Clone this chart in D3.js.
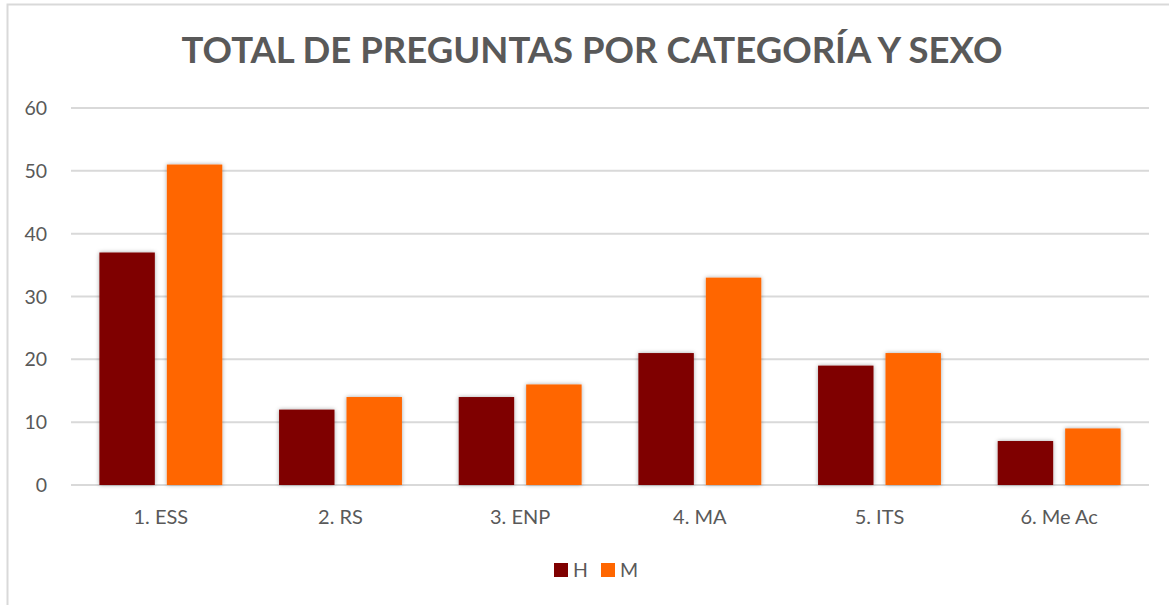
<!DOCTYPE html>
<html>
<head>
<meta charset="utf-8">
<script src="https://cdn.jsdelivr.net/npm/d3@7"></script>
<style>
  body { margin: 0; background: #fff; }
  text { font-family: Lato, "Open Sans", sans-serif; fill: #595959; }
</style>
</head>
<body>
<svg id="chart" width="1169" height="605"></svg>
<script>
// data
var categories = ["1. ESS", "2. RS", "3. ENP", "4. MA", "5. ITS", "6. Me Ac"];
var seriesNames = ["H", "M"];
var valuesH = [37, 12, 14, 21, 19, 7];
var valuesM = [51, 14, 16, 33, 21, 9];
var yTicks = [0, 10, 20, 30, 40, 50, 60];
var colors = ["#7f0000", "#ff6600"];

var svg = d3.select("#chart");
var W = 1169, H = 605;
// plot area
var marginLeft = 71, marginRight = 20, marginTop = 108, plotBottom = 485;

// chart border (light gray)
svg.append("rect")
   .attr("x", 7.5).attr("y", 4.5)
   .attr("width", W + 10).attr("height", H + 10)
   .attr("fill", "none").attr("stroke", "#d9d9d9").attr("stroke-width", 2);

// soft shadow for bars
var defs = svg.append("defs");
var f = defs.append("filter").attr("id", "shadow")
            .attr("x", "-20%").attr("y", "-20%").attr("width", "140%").attr("height", "140%");
f.append("feDropShadow").attr("dx", 0).attr("dy", 0).attr("stdDeviation", 2)
 .attr("flood-color", "#000").attr("flood-opacity", 0.35);

var x0 = d3.scaleBand()
           .domain(categories)
           .range([marginLeft, W - marginRight])
           .paddingInner(0.316).paddingOuter(0.158);
// inner band for H / M inside each category
var x1 = d3.scaleBand()
           .domain(seriesNames)
           .range([0, x0.bandwidth()])
           .paddingInner(0.178);

var y = d3.scaleLinear().domain([0, 60]).range([plotBottom, marginTop]);

// gridlines
svg.selectAll(".grid")
   .data(yTicks)
   .enter()
   .append("line")
   .attr("class", "grid")
   .attr("x1", marginLeft).attr("x2", W - marginRight)
   .attr("y1", function(d) { return y(d); })
   .attr("y2", function(d) { return y(d); })
   .attr("stroke", "#d9d9d9").attr("stroke-width", 2);

// y tick labels
svg.selectAll(".ylab")
   .data(yTicks)
   .enter()
   .append("text")
   .attr("class", "ylab")
   .attr("x", 47)
   .attr("y", function(d) { return y(d) + 7; })
   .attr("text-anchor", "end")
   .attr("font-size", 19.5)
   .text(function(d) { return d; });

// bars
var rows = categories.map(function(c, i) {
  return { cat: c, vals: [valuesH[i], valuesM[i]] };
});

var groups = svg.selectAll(".grp")
   .data(rows)
   .enter()
   .append("g")
   .attr("class", "grp")
   .attr("transform", function(d) { return "translate(" + x0(d.cat) + ",0)"; });

groups.selectAll("rect")
   .data(function(d) { return d.vals.map(function(v, j) { return { s: seriesNames[j], v: v, j: j }; }); })
   .enter()
   .append("rect")
   .attr("x", function(d) { return x1(d.s); })
   .attr("y", function(d) { return y(d.v); })
   .attr("width", x1.bandwidth())
   .attr("height", function(d) { return plotBottom - y(d.v); })
   .attr("fill", function(d) { return colors[d.j]; })
   .attr("filter", "url(#shadow)");

// x category labels
svg.selectAll(".xlab")
   .data(categories)
   .enter()
   .append("text")
   .attr("class", "xlab")
   .attr("x", function(d) { return x0(d) + x0.bandwidth() / 2; })
   .attr("y", 524)
   .attr("text-anchor", "middle")
   .attr("font-size", 20)
   .text(function(d) { return d; });

// title
svg.append("text")
   .attr("x", 592)
   .attr("y", 63)
   .attr("text-anchor", "middle")
   .attr("font-size", 36.5)
   .attr("font-weight", "bold")
   .text("TOTAL DE PREGUNTAS POR CATEGORÍA Y SEXO");

// legend
var legend = svg.selectAll(".leg")
   .data(seriesNames)
   .enter()
   .append("g")
   .attr("class", "leg")
   .attr("transform", function(d, i) { return "translate(" + (554 + i * 47) + ",0)"; });

legend.append("rect")
   .attr("x", 0).attr("y", 563)
   .attr("width", 14).attr("height", 14)
   .attr("fill", function(d, i) { return colors[i]; });

legend.append("text")
   .attr("x", 19).attr("y", 577)
   .attr("font-size", 19.5)
   .text(function(d) { return d; });
</script>
</body>
</html>
